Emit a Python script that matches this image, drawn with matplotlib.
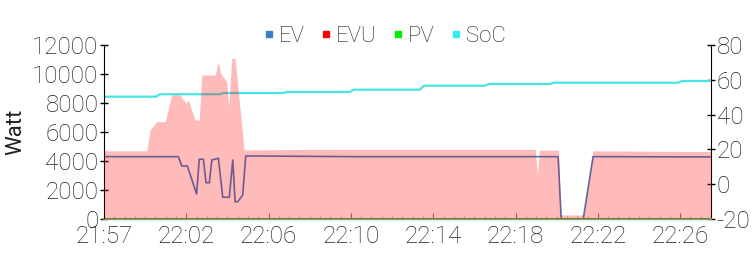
import matplotlib
matplotlib.use("Agg")
from matplotlib import pyplot as plt
from matplotlib.lines import Line2D
import numpy as np

# minutes after 21:57
ev_t = [0, 3.61, 3.78, 4.05, 4.5, 4.63, 4.83, 4.96, 5.12, 5.24, 5.56, 5.77, 6.09, 6.26,
        6.37, 6.5, 6.74, 6.89, 12.0, 22.07, 22.22, 23.29, 23.77, 29.5]
ev_w = [4300, 4300, 3660, 3660, 1720, 4120, 4120, 2500, 2500, 4070, 4190, 1500, 1500, 4070,
        1190, 1190, 1650, 4350, 4300, 4300, 0, 0, 4300, 4280]

evu_t = [0, 0.2, 2.08, 2.24, 2.56, 2.97, 3.29, 3.69, 3.99, 4.10, 4.42, 4.63, 4.75, 5.40,
         5.56, 5.67, 5.96, 6.06, 6.21, 6.37, 6.81, 10.0, 20.95, 21.07, 21.16, 22.09, 22.2,
         23.29, 23.76, 29.5]
evu_w = [4760, 4700, 4700, 6140, 6710, 6710, 8550, 8550, 7980, 8200, 6830, 6830, 9930, 9930,
         10850, 10050, 9470, 7750, 11080, 11080, 4760, 4800, 4800, 3030, 4750, 4750, 280,
         280, 4700, 4650]

pv_t = [0, 29.5]
pv_w = [0, 0]

soc_t = [0, 2.53, 2.73, 5.62, 5.82, 8.7, 8.9, 11.94, 12.14, 15.35, 15.55, 18.5, 18.7,
         21.66, 21.86, 27.9, 28.1, 29.5]
soc = [50.3, 50.3, 51.7, 51.7, 52.4, 52.4, 53, 53, 54.3, 54.3, 56.6, 56.6, 57.6, 57.6,
       58.3, 58.3, 59.3, 59.3]

xticks = [0, 4, 8, 12, 16, 20, 24, 28]
xlabels = ["21:57", "22:02", "22:06", "22:10", "22:14", "22:18", "22:22", "22:26"]

plt.rcParams["axes.unicode_minus"] = False
plt.rcParams["font.family"] = ["Roboto", "DejaVu Sans"]
plt.rcParams["font.weight"] = "light"
tc = "#222222"

fig = plt.figure(figsize=(7.54, 2.62), dpi=100)
ax = fig.add_axes([104/754, 1-219/262, (711-104)/754, (219-45)/262])
ax2 = ax.twinx()
ax.set_zorder(ax2.get_zorder() + 1)
ax.patch.set_visible(False)

ax2.plot(soc_t, soc, color="#48e4e4", linewidth=1.6)
ax.plot(ev_t, ev_w, color="#3a7ec8", linewidth=1.2, zorder=2)
ax.plot(pv_t, pv_w, color="#22cc22", linewidth=1.5, clip_on=False, zorder=2)
ax.fill_between(evu_t, 0, evu_w, color="#ff0000", alpha=0.27, linewidth=0, zorder=3)

ax.set_xlim(0, 29.5)
ax.set_ylim(0, 12000)
ax2.set_ylim(-20, 80)
ax.set_yticks(range(0, 12001, 2000))
ax2.set_yticks(range(-20, 81, 20))
ax.set_xticks(xticks)
ax.set_xticklabels(xlabels)
ax.set_xticks(np.arange(0, 29.5, 0.5), minor=True)

for a in (ax, ax2):
    a.spines["top"].set_visible(False)
    for lab in a.get_xticklabels() + a.get_yticklabels():
        lab.set_fontsize(17.5)
        lab.set_color(tc)
ax.spines["right"].set_visible(False)
ax2.spines["left"].set_visible(False)
ax2.spines["bottom"].set_visible(False)
ax.spines["bottom"].set_color("#999999")
ax.spines["left"].set_color("black")
ax2.spines["right"].set_color("black")

ax.tick_params(axis="y", direction="inout", length=6, width=1, pad=1)
ax2.tick_params(axis="y", direction="inout", length=6, width=1, pad=1)
ax.tick_params(axis="x", which="major", direction="in", length=4, color="#777777", pad=4)
ax.tick_params(axis="x", which="minor", direction="in", length=2, color="#999999")

ax.set_ylabel("Watt", fontsize=16, color=tc, labelpad=4)

handles = [Line2D([], [], marker="s", linestyle="", markersize=4, color=c)
           for c in ["#3a7ec8", "#ff0000", "#00ee00", "#33eeee"]]
fig.legend(handles, ["EV", "EVU", "PV", "SoC"], loc="center", bbox_to_anchor=(0.51, 0.86),
           ncol=4, frameon=False, handlelength=0.5, handletextpad=0.2, columnspacing=0.7,
           prop={"size": 16, "weight": "light"}, labelcolor=tc)

fig.savefig("out.png", dpi=100)
